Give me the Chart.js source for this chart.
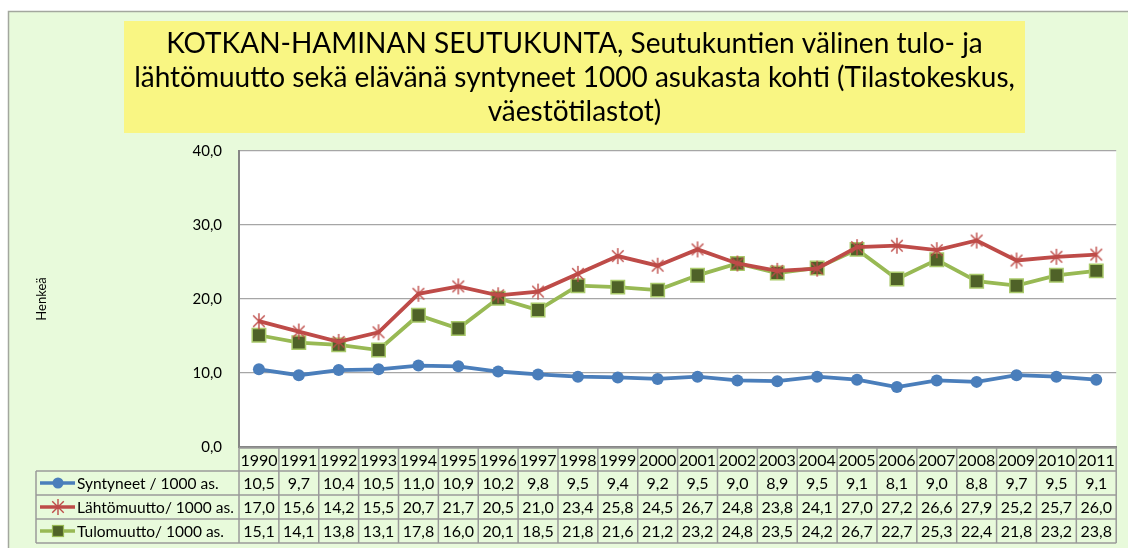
<!DOCTYPE html>
<html>
<head>
<meta charset="utf-8">
<script src="https://cdn.jsdelivr.net/npm/chart.js@4/dist/chart.umd.min.js"></script>
<style>
  html, body { margin: 0; padding: 0; background: #ffffff; }
  canvas { display: block; }
</style>
</head>
<body>
<canvas id="c" width="1128" height="548"></canvas>
<script>
// ---- data ----
const years = ['1990','1991','1992','1993','1994','1995','1996','1997','1998','1999','2000',
               '2001','2002','2003','2004','2005','2006','2007','2008','2009','2010','2011'];
const syntyneet   = [10.5, 9.7, 10.4, 10.5, 11.0, 10.9, 10.2, 9.8, 9.5, 9.4, 9.2,
                     9.5, 9.0, 8.9, 9.5, 9.1, 8.1, 9.0, 8.8, 9.7, 9.5, 9.1];
const lahtomuutto = [17.0, 15.6, 14.2, 15.5, 20.7, 21.7, 20.5, 21.0, 23.4, 25.8, 24.5,
                     26.7, 24.8, 23.8, 24.1, 27.0, 27.2, 26.6, 27.9, 25.2, 25.7, 26.0];
const tulomuutto  = [15.1, 14.1, 13.8, 13.1, 17.8, 16.0, 20.1, 18.5, 21.8, 21.6, 21.2,
                     23.2, 24.8, 23.5, 24.2, 26.7, 22.7, 25.3, 22.4, 21.8, 23.2, 23.8];
const seriesNames = ['Syntyneet / 1000 as.', 'Lähtömuutto/ 1000 as.', 'Tulomuutto/ 1000 as.'];
const titleLines  = ['KOTKAN-HAMINAN SEUTUKUNTA, Seutukuntien välinen tulo- ja',
                     'lähtömuutto sekä elävänä syntyneet 1000 asukasta kohti (Tilastokeskus,',
                     'väestötilastot)'];
const yAxisTitle = 'Henkeä';
const yMin = 0, yMax = 40, yStep = 10;

// ---- style ----
const FONT = 'Lato, "Open Sans", sans-serif';
const W = 1128, H = 548;
const GREEN_BG = '#E8FADB';
const YELLOW = '#F9F683';
const BLUE = '#4A7EBB', RED = '#BE4B48', GREEN = '#98B954', DKGREEN = '#4F6228';
const fmt = v => v.toFixed(1).replace('.', ',');

function makeStar(size, color, lw) {
  const c = document.createElement('canvas');
  c.width = size; c.height = size;
  const g = c.getContext('2d');
  g.strokeStyle = color; g.lineWidth = lw; g.lineCap = 'butt';
  const m = size / 2, r = size / 2 - 1;
  g.beginPath();
  g.moveTo(m, m - r); g.lineTo(m, m + r);
  const d = r * 0.72;
  g.moveTo(m - d, m - d); g.lineTo(m + d, m + d);
  g.moveTo(m + d, m - d); g.lineTo(m - d, m + d);
  g.stroke();
  return c;
}
const starImg = makeStar(18, RED, 1.4);

const bgPlugin = {
  id: 'bg',
  beforeDraw(chart) {
    const { ctx, chartArea: a } = chart;
    ctx.save();
    ctx.fillStyle = '#ffffff';
    ctx.fillRect(0, 0, W, H);
    ctx.fillStyle = GREEN_BG;
    ctx.fillRect(8, 11, W - 8, H - 11);
    ctx.strokeStyle = '#A3A79E';
    ctx.lineWidth = 1.5;
    ctx.beginPath();
    ctx.moveTo(8.5, H); ctx.lineTo(8.5, 11.5); ctx.lineTo(W, 11.5);
    ctx.stroke();
    ctx.fillStyle = YELLOW;
    ctx.fillRect(124, 21, 901, 112);
    ctx.fillStyle = '#ffffff';
    ctx.fillRect(a.left, a.top, a.right - a.left, a.bottom - a.top);
    ctx.restore();
  }
};

const tablePlugin = {
  id: 'datatable',
  afterDraw(chart) {
    const { ctx, chartArea: a, scales: { x } } = chart;
    const colW = x.getPixelForValue(1) - x.getPixelForValue(0);
    const top = a.bottom + 1;
    const rowH = [23, 24, 24, 24];
    const rowTop = [top];
    for (let i = 0; i < rowH.length; i++) rowTop.push(rowTop[i] + rowH[i]);
    const legendLeft = 36;
    ctx.save();
    ctx.strokeStyle = '#9A9A9A';
    ctx.lineWidth = 1.5;
    ctx.beginPath();
    for (let r = 0; r <= 4; r++) {
      const yy = rowTop[r];
      const x0 = r >= 1 ? legendLeft : a.left;
      ctx.moveTo(x0, yy); ctx.lineTo(a.right, yy);
    }
    for (let i = 0; i <= years.length; i++) {
      const xx = a.left + i * colW;
      ctx.moveTo(xx, top); ctx.lineTo(xx, rowTop[4]);
    }
    ctx.moveTo(legendLeft, rowTop[1]); ctx.lineTo(legendLeft, rowTop[4]);
    ctx.stroke();

    ctx.fillStyle = '#000';
    ctx.textBaseline = 'middle';
    ctx.font = '16px ' + FONT;
    ctx.textAlign = 'center';
    years.forEach((yv, i) => {
      ctx.fillText(yv, x.getPixelForValue(i), rowTop[0] + rowH[0] / 2 + 1);
    });
    chart.data.datasets.forEach((ds, r) => {
      const cy = rowTop[r + 1] + rowH[r + 1] / 2 + 1;
      ds.data.forEach((v, i) => {
        ctx.fillText(fmt(v), x.getPixelForValue(i), cy);
      });
    });
    ctx.font = '15.5px ' + FONT;
    chart.data.datasets.forEach((ds, r) => {
      const cy = rowTop[r + 1] + rowH[r + 1] / 2;
      ctx.strokeStyle = ds.borderColor;
      ctx.lineWidth = 3.5;
      ctx.beginPath(); ctx.moveTo(40, cy); ctx.lineTo(75, cy); ctx.stroke();
      const mx = 58;
      if (r === 0) {
        ctx.fillStyle = BLUE;
        ctx.beginPath(); ctx.arc(mx, cy, 5.5, 0, Math.PI * 2); ctx.fill();
      } else if (r === 1) {
        ctx.drawImage(starImg, mx - starImg.width / 2, cy - starImg.height / 2);
      } else {
        ctx.fillStyle = DKGREEN;
        ctx.fillRect(mx - 5.5, cy - 5.5, 11, 11);
        ctx.strokeStyle = GREEN; ctx.lineWidth = 1.2;
        ctx.strokeRect(mx - 5.5, cy - 5.5, 11, 11);
      }
      ctx.fillStyle = '#000';
      ctx.textAlign = 'left';
      ctx.fillText(ds.label, 77, cy + 1);
    });
    ctx.restore();
  }
};

new Chart(document.getElementById('c'), {
  type: 'line',
  data: {
    labels: years,
    datasets: [
      { label: seriesNames[0], data: syntyneet, borderColor: BLUE, backgroundColor: BLUE,
        borderWidth: 3.8, pointStyle: 'circle', pointRadius: 6, pointBorderWidth: 0,
        pointBackgroundColor: BLUE, tension: 0 },
      { label: seriesNames[1], data: lahtomuutto, borderColor: RED, backgroundColor: RED,
        borderWidth: 3.8, pointStyle: starImg, pointRadius: 8, tension: 0 },
      { label: seriesNames[2], data: tulomuutto, borderColor: GREEN, backgroundColor: DKGREEN,
        borderWidth: 3.8, pointStyle: 'rect', pointRadius: 9.5, pointBorderWidth: 1.5,
        pointBorderColor: '#A9C96A', pointBackgroundColor: DKGREEN, tension: 0 }
    ]
  },
  options: {
    responsive: false,
    animation: false,
    devicePixelRatio: 1,
    layout: { padding: { left: 28, right: 7, top: 0, bottom: 93 } },
    plugins: {
      legend: { display: false },
      tooltip: { enabled: false },
      title: {
        display: true,
        text: titleLines,
        color: '#000',
        font: { family: FONT, size: 28, weight: 'normal', lineHeight: 1.22 },
        padding: { top: 27, bottom: 21.5 }
      }
    },
    scales: {
      x: {
        type: 'category',
        offset: true,
        grid: { display: false, offset: true },
        border: { display: true, color: '#868686', width: 2 },
        ticks: { display: false }
      },
      y: {
        min: yMin, max: yMax,
        afterFit(scale) { scale.width = 211; },
        ticks: {
          stepSize: yStep, padding: 17, color: '#000',
          font: { family: FONT, size: 15 },
          callback: v => fmt(v)
        },
        grid: { color: '#A6A6A6', lineWidth: 1.2, drawTicks: false },
        border: { display: true, color: '#868686', width: 2 },
        title: {
          display: true, text: yAxisTitle, color: '#000',
          font: { family: FONT, size: 13 }, padding: { top: 6, bottom: 0 }
        }
      }
    }
  },
  plugins: [bgPlugin, tablePlugin]
});
</script>
</body>
</html>
